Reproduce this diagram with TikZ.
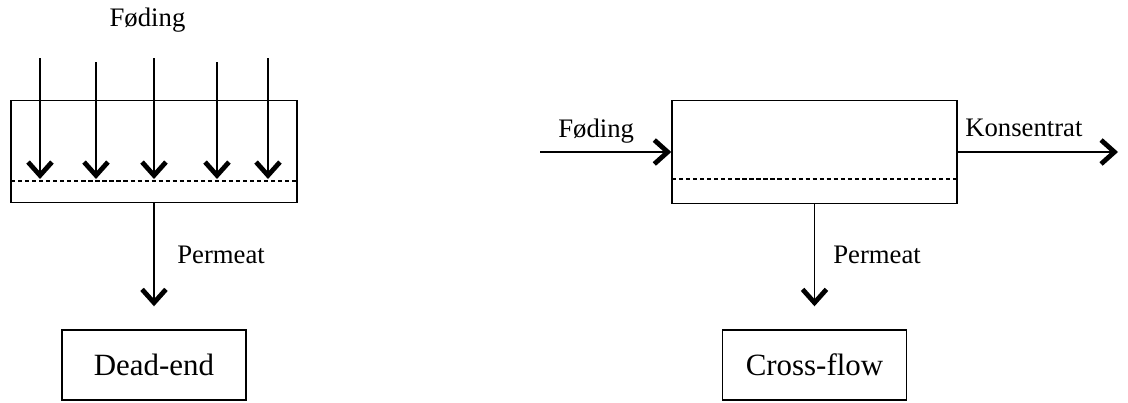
\documentclass[tikz,border=0pt]{standalone}
\usepackage{fontspec}
\setmainfont{Liberation Serif}
\usetikzlibrary{positioning,arrows.meta}

\tikzset{
  flow/.style={line width=1pt, -{Straight Barb[length=9.5pt,width=17pt,line width=3.4pt]}},
  cell/.style={draw, line width=1pt, inner sep=0pt, minimum width=7.15cm, minimum height=2.56cm},
  membrane/.style={line width=0.8pt, dash pattern=on 3pt off 2pt},
  tag/.style={font=\fontsize{19}{22}\selectfont, inner sep=0pt},
  modebox/.style={draw, line width=1pt, inner sep=0pt, minimum width=4.6cm, minimum height=1.75cm, font=\fontsize{22}{26}\selectfont},
}

\begin{document}
\begin{tikzpicture}[x=0.025cm, y=-0.025cm]
    \useasboundingbox (0,0) rectangle (1128,402);

    % Dead-end filter
    \node[cell] (deadcell) at (154,151.5) {};
    \draw[membrane] (11,181) -- (297,181);
    \node[tag, anchor=base] (deadfeed) at (147.5,26) {Føding};
    \foreach \i/\x/\t in {1/40/58, 2/96/62, 3/154/58, 4/217/62, 5/268/58} {
        \coordinate (top\i) at (\x,\t);
        \coordinate (hit\i) at (\x,179);
        \draw[flow] (top\i) -- (hit\i);
    }
    \node[modebox] (deadend) at (154,365) {Dead-end};
    \draw[flow, shorten >=0.575cm] (deadcell.south) -- (deadend.north);
    \node[tag, anchor=base west] (deadperm) at (177,263) {Permeat};

    % Cross-flow filter
    \node[cell, minimum width=7.125cm] (crosscell) at (814.5,152) {};
    \draw[membrane] (672,179) -- (957,179);
    \coordinate (crossin) at (540,152);
    \coordinate (crossout) at (1118,152);
    \draw[flow] (crossin) -- (crosscell.west);
    \draw[flow] (crosscell.east) -- (crossout);
    \node[tag, anchor=base west] (crossfeed) at (558,137) {Føding};
    \node[tag, anchor=base west] (crossconc) at (965,136) {Konsentrat};
    \node[modebox] (crossflow) at (814.5,365) {Cross-flow};
    \draw[flow, shorten >=0.575cm] (crosscell.south) -- (crossflow.north);
    \node[tag, anchor=base west] (crossperm) at (833,263) {Permeat};
\end{tikzpicture}
\end{document}
